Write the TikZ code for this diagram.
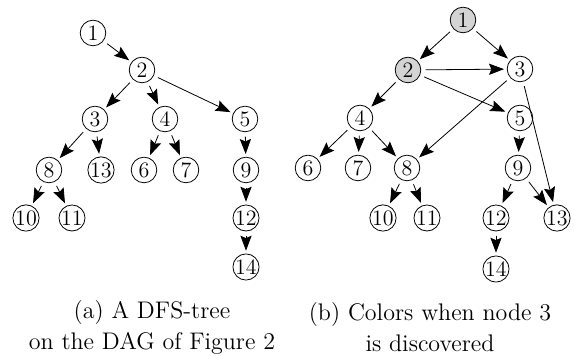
\documentclass[tikz,border=0pt]{standalone}
\usepackage{tikz}
\usetikzlibrary{arrows.meta}

\definecolor{my_lightgray}{HTML}{D4D4D4}

\begin{document}
\begin{tikzpicture}[
    x=0.5pt, y=-0.5pt,
    vertex/.style={draw, circle, inner sep=0pt, minimum size=12.8pt, font=\fontsize{11}{13}\selectfont},
    grayvertex/.style={vertex, fill=my_lightgray},
    edge/.style={-{Stealth[length=7.5pt, width=5.6pt, inset=1.2pt]}, shorten <=2.2pt, shorten >=1.4pt},
    caption/.style={align=center, font=\fontsize{12}{15.5}\selectfont}
]
\useasboundingbox (0,0) rectangle (575,356);

% ---------------------------------------------------------------
%  (a) DFS-tree
% ---------------------------------------------------------------

\node[vertex] (a1)  at ( 93,  33) {1};
\node[vertex] (a2)  at (142,  70) {2};
\node[vertex] (a3)  at ( 95, 119) {3};
\node[vertex] (a4)  at (165, 119) {4};
\node[vertex] (a5)  at (245, 119) {5};
\node[vertex] (a8)  at ( 49, 170) {8};
\node[vertex] (a13) at (101, 170) {13};
\node[vertex] (a6)  at (144, 170) {6};
\node[vertex] (a7)  at (186, 170) {7};
\node[vertex] (a9)  at (246, 170) {9};
\node[vertex] (a10) at ( 26, 218) {10};
\node[vertex] (a11) at ( 72, 218) {11};
\node[vertex] (a12) at (246, 218) {12};
\node[vertex] (a14) at (246, 267) {14};

% ---- Tree edges ----
\draw[edge] (a1) -- (a2);
\draw[edge] (a2) -- (a3);
\draw[edge] (a2) -- (a4);
\draw[edge] (a2) -- (a5);
\draw[edge] (a3) -- (a8);
\draw[edge] (a3) -- (a13);
\draw[edge] (a4) -- (a6);
\draw[edge] (a4) -- (a7);
\draw[edge] (a5) -- (a9);
\draw[edge] (a8) -- (a10);
\draw[edge] (a8) -- (a11);
\draw[edge] (a9) -- (a12);
\draw[edge] (a12) -- (a14);

\node[caption] (capa) at (152, 327) {(a) A DFS-tree\\on the DAG of Figure 2};

% ---------------------------------------------------------------
%  (b) Colors when node 3 is discovered
% ---------------------------------------------------------------

\node[grayvertex] (b1) at (463,  20) {1};
\node[grayvertex] (b2) at (408,  70) {2};
\node[vertex] (b3)  at (520,  69) {3};
\node[vertex] (b4)  at (360, 118) {4};
\node[vertex] (b5)  at (520, 118) {5};
\node[vertex] (b6)  at (308, 168) {6};
\node[vertex] (b7)  at (358, 168) {7};
\node[vertex] (b8)  at (407, 168) {8};
\node[vertex] (b9)  at (518, 168) {9};
\node[vertex] (b10) at (383, 218) {10};
\node[vertex] (b11) at (427, 218) {11};
\node[vertex] (b12) at (496, 218) {12};
\node[vertex] (b13) at (557, 218) {13};
\node[vertex] (b14) at (496, 269) {14};

% ---- DAG edges ----
\draw[edge] (b1) -- (b2);
\draw[edge] (b1) -- (b3);
\draw[edge] (b2) -- (b3);
\draw[edge] (b2) -- (b4);
\draw[edge] (b2) -- (b5);
\draw[edge] (b3) -- (b8);
\draw[edge] (b3) -- (b13);
\draw[edge] (b4) -- (b6);
\draw[edge] (b4) -- (b7);
\draw[edge] (b4) -- (b8);
\draw[edge] (b5) -- (b9);
\draw[edge] (b8) -- (b10);
\draw[edge] (b8) -- (b11);
\draw[edge] (b9) -- (b12);
\draw[edge] (b9) -- (b13);
\draw[edge] (b12) -- (b14);

\node[caption] (capb) at (430, 327) {(b) Colors when node 3\\is discovered};

\end{tikzpicture}
\end{document}
